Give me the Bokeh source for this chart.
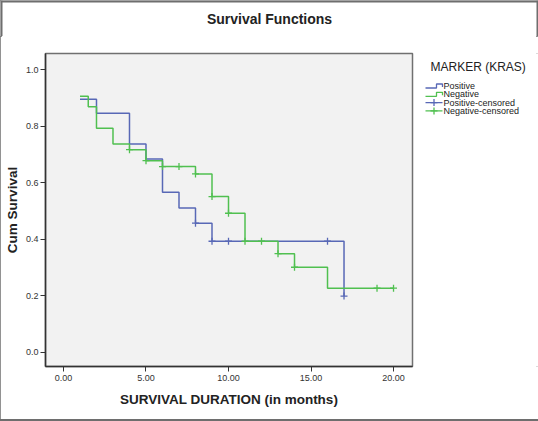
import numpy as np
from bokeh.plotting import figure
from bokeh.layouts import row, column
from bokeh.models import Range1d, FixedTicker, PrintfTickFormatter
from bokeh.core.properties import value
from bokeh.embed import file_html
from bokeh.resources import INLINE

# Kaplan-Meier step data
pos_time = [1, 2, 4, 5, 6, 7, 8, 9, 17]
pos_surv = [0.895, 0.846, 0.737, 0.684, 0.566, 0.511, 0.457, 0.393, 0.199]
neg_time = [1, 1.5, 2, 3, 4, 5, 6, 8, 9, 10, 11, 13, 14, 16, 20]
neg_surv = [0.906, 0.869, 0.793, 0.737, 0.717, 0.678, 0.657, 0.631, 0.551, 0.492, 0.393, 0.349, 0.301, 0.227, 0.227]

pos_cens_time = [8, 9, 10, 16, 17]
pos_cens_surv = [0.457, 0.393, 0.393, 0.393, 0.199]
neg_cens_time = [4, 5, 6, 7, 8, 9, 10, 11, 12, 13, 14, 19, 20]
neg_cens_surv = [0.717, 0.678, 0.657, 0.657, 0.631, 0.551, 0.492, 0.393, 0.393, 0.349, 0.301, 0.227, 0.227]

x_ticks = [0, 5, 10, 15, 20]
y_ticks = [0.0, 0.2, 0.4, 0.6, 0.8, 1.0]
chart_title = "Survival Functions"
legend_title = "MARKER (KRAS)"
legend_labels = ["Positive", "Negative", "Positive-censored", "Negative-censored"]

BLUE = "#5868b6"
GREEN = "#50c050"
EDGE = "#6e6e6e"
FONT = "Liberation Sans"
HEAD_H = 36
FOOT_H = 2
W, H = 538, 421
PW = 420
BODY_H = H - HEAD_H - FOOT_H
FRAME_TOP, FRAME_BOTTOM = 53, 366

# ---- header with the chart title ----
hdr = figure(width=W, height=HEAD_H, output_backend="svg", toolbar_location=None,
             x_range=Range1d(0, W), y_range=Range1d(HEAD_H, 0),
             x_axis_type=None, y_axis_type=None,
             min_border_left=0, min_border_right=0, min_border_top=0, min_border_bottom=0)
hdr.outline_line_color = None
hdr.xgrid.visible = False
hdr.ygrid.visible = False
hdr.text(x=[269], y=[18], text=[chart_title], text_font=value(FONT), text_font_size=value("14px"),
         text_font_style="bold", text_color="#222222", text_align="center", text_baseline="middle")
# outer image frame, top part
hdr.multi_line(xs=[[0, W], [1, 1], [W - 1, W - 1]], ys=[[1, 1], [0, HEAD_H], [0, HEAD_H]],
               line_color=EDGE, line_width=2)

# ---- main chart ----
p = figure(width=PW, height=BODY_H, output_backend="svg", toolbar_location=None,
           x_range=Range1d(-1.09, 21.15), y_range=Range1d(-0.05, 1.057),
           min_border_left=45, min_border_right=8,
           min_border_top=FRAME_TOP - HEAD_H, min_border_bottom=HEAD_H + BODY_H - FRAME_BOTTOM)

p.background_fill_color = "#f2f2f2"
p.border_fill_color = "white"
p.outline_line_color = "#707070"
p.outline_line_width = 1.5
p.xgrid.visible = False
p.ygrid.visible = False

for ax in (p.xaxis[0], p.yaxis[0]):
    ax.axis_line_color = "#333333"
    ax.axis_line_width = 1.5
    ax.major_tick_line_color = "#333333"
    ax.major_tick_out = 5
    ax.major_tick_in = 0
    ax.minor_tick_line_color = None
    ax.major_label_text_font = FONT
    ax.major_label_text_font_size = "9px"
    ax.major_label_text_color = "#333333"
    ax.axis_label_text_font = FONT
    ax.axis_label_text_font_size = "13.5px"
    ax.axis_label_text_font_style = "bold"
    ax.axis_label_text_color = "#222222"

p.xaxis.ticker = FixedTicker(ticks=x_ticks)
p.xaxis.formatter = PrintfTickFormatter(format="%.2f")
p.xaxis.axis_label = "SURVIVAL DURATION (in months)"
p.xaxis.major_label_standoff = 3
p.xaxis.axis_label_standoff = 8

p.yaxis.ticker = FixedTicker(ticks=y_ticks)
p.yaxis.formatter = PrintfTickFormatter(format="%.1f")
p.yaxis.axis_label = "Cum Survival"
p.yaxis.major_label_standoff = 2
p.yaxis.axis_label_standoff = 3

p.step(pos_time, pos_surv, mode="after", line_color=BLUE, line_width=1.5)
p.step(neg_time, neg_surv, mode="after", line_color=GREEN, line_width=1.5)
p.scatter(pos_cens_time, pos_cens_surv, marker="cross", size=7, line_color=BLUE, line_width=1.3)
p.scatter(neg_cens_time, neg_cens_surv, marker="cross", size=7, line_color=GREEN, line_width=1.3)

# ---- legend panel (its frame is aligned with the chart frame; page pixel coordinates) ----
q = figure(width=W - PW, height=BODY_H, output_backend="svg", toolbar_location=None,
           x_range=Range1d(PW, W), y_range=Range1d(FRAME_BOTTOM, FRAME_TOP),
           x_axis_type=None, y_axis_type=None,
           min_border_left=0, min_border_right=0,
           min_border_top=FRAME_TOP - HEAD_H, min_border_bottom=HEAD_H + BODY_H - FRAME_BOTTOM)
q.outline_line_color = None
q.xgrid.visible = False
q.ygrid.visible = False

lx0, lx1, ltext = 425, 442, 443
ly0, ldy = 85.5, 8.3
q.text(x=[430], y=[66], text=[legend_title], text_font=value(FONT), text_font_size=value("12px"),
       text_color="#222222", text_align="left", text_baseline="middle")
ys = [ly0 + i * ldy for i in range(len(legend_labels))]
q.text(x=[ltext] * len(ys), y=ys, text=legend_labels, text_font=value(FONT),
       text_font_size=value("9px"), text_color="#222222", text_align="left", text_baseline="middle")
colors = [BLUE, GREEN, BLUE, GREEN]
for i, (yc, c) in enumerate(zip(ys, colors)):
    if i < 2:
        q.line([lx0, 436, 436, lx1, lx1], [yc + 2, yc + 2, yc - 2, yc - 2, yc + 1],
               line_color=c, line_width=1.3)
    else:
        q.line([lx0, lx1], [yc, yc], line_color=c, line_width=1.3)
        q.scatter([(lx0 + lx1) / 2], [yc], marker="cross", size=7, line_color=c, line_width=1.3)

# ---- footer: bottom edge of the outer image frame ----
ftr = figure(width=W, height=FOOT_H, output_backend="svg", toolbar_location=None,
             x_axis_type=None, y_axis_type=None,
             min_border_left=0, min_border_right=0, min_border_top=0, min_border_bottom=0)
ftr.outline_line_color = None
ftr.xgrid.visible = False
ftr.ygrid.visible = False
ftr.background_fill_color = EDGE
ftr.border_fill_color = EDGE

layout = column(hdr, row(p, q), ftr)
layout.styles = {"outline": "2px solid " + EDGE, "outline-offset": "-2px"}
open("out.html", "w").write(file_html(layout, INLINE))
